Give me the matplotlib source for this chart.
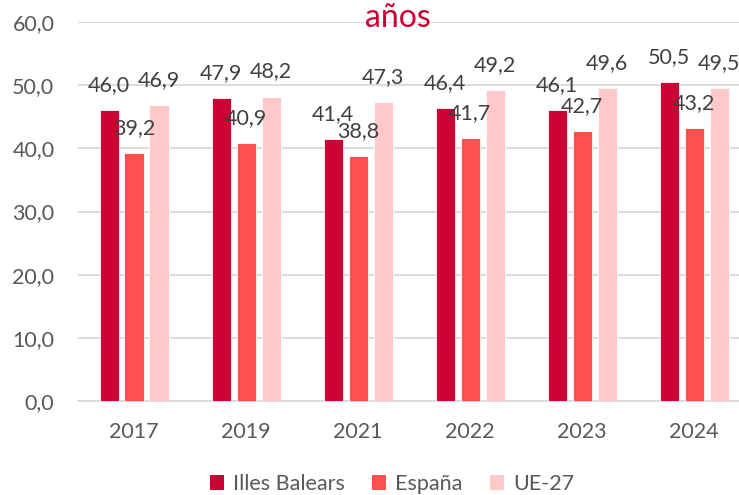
import numpy as np
import matplotlib.pyplot as plt
from matplotlib.patches import Patch

plt.rcParams['font.family'] = ['Lato', 'DejaVu Sans']

years = ["2017", "2019", "2021", "2022", "2023", "2024"]
series = ["Illes Balears", "España", "UE-27"]
baleares = [46.0, 47.9, 41.4, 46.4, 46.1, 50.5]
espana = [39.2, 40.9, 38.8, 41.7, 42.7, 43.2]
ue27 = [46.9, 48.2, 47.3, 49.2, 49.6, 49.5]
colors = ["#CC0033", "#FF5050", "#FFC9C9"]

W, H = 739, 495
fig = plt.figure(figsize=(W / 100, H / 100), dpi=100)
ax = fig.add_axes([78 / W, (H - 401) / H, (W - 78) / W, 379 / H])

x = np.arange(len(years))
width = 0.17
step = 0.223
for k, (vals, c) in enumerate(zip([baleares, espana, ue27], colors)):
    pos = x + (k - 1) * step
    ax.bar(pos, vals, width, color=c, edgecolor="white", linewidth=0.6, zorder=3)
    for px, v in zip(pos, vals):
        ax.annotate(f"{v:.1f}".replace(".", ","), (px, v), xytext=(0, 18),
                    textcoords="offset points", ha="center", va="center",
                    fontsize=15.5, color="#404040", zorder=4, annotation_clip=False)

ax.set_xlim(-0.5, 5.4)
ax.set_ylim(0, 60)
ax.set_yticks(np.arange(0, 61, 10))
ax.set_yticklabels([f"{t:.1f}".replace(".", ",") for t in np.arange(0, 61, 10)])
ax.set_xticks(x)
ax.set_xticklabels(years)
ax.tick_params(axis="both", length=0, labelsize=15.5, labelcolor="#595959")
ax.tick_params(axis="y", pad=17)
ax.tick_params(axis="x", pad=15)
ax.grid(axis="y", color="#D9D9D9", linewidth=1.3, zorder=0)
for s in ["left", "right", "top"]:
    ax.spines[s].set_visible(False)
ax.spines["bottom"].set_color("#D9D9D9")
ax.spines["bottom"].set_linewidth(1.3)

fig.text(398 / W, (H - 27) / H, "años", ha="center", va="baseline",
         fontsize=23, color="#CC0033")

handles = [Patch(facecolor=c, edgecolor="none") for c in colors]
fig.legend(handles, series, loc="center", bbox_to_anchor=(392 / W, 1 - 484 / H),
           ncol=3, frameon=False, fontsize=15.5, labelcolor="#595959",
           handlelength=0.65, handleheight=0.65, handletextpad=0.4,
           columnspacing=1.3)

fig.savefig("out.png", dpi=100)
